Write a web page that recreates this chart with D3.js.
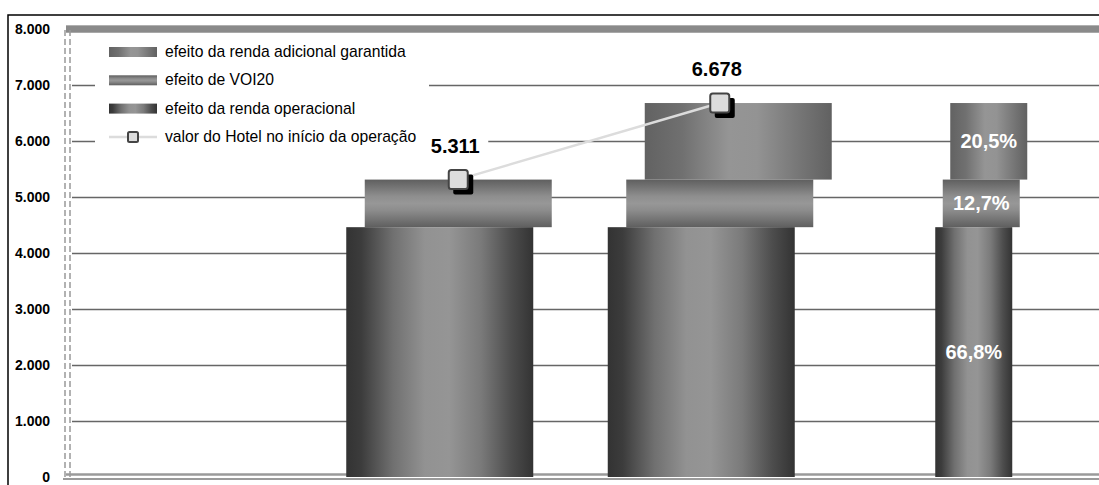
<!DOCTYPE html>
<html>
<head>
<meta charset="utf-8">
<script src="https://cdn.jsdelivr.net/npm/d3@7"></script>
<style>
  body { margin: 0; background: #fff; }
  svg { display: block; font-family: "Liberation Sans", Arial, sans-serif; }
</style>
</head>
<body>
<div id="chart"></div>
<script>
// categories (no labels shown on the x axis)
var categories = ["1", "2", "3", "4"];

// series values
var rendaOperacional = [0, 4461, 4461, 4461];
var efeitoVOI20 = [0, 850, 850, 850];
var rendaGarantida = [0, 0, 1367, 1367];
var valorHotel = [null, 5311, 6678, null];

// percentage labels on the last column
var pctOperacional = [null, null, null, "66,8%"];
var pctVOI20 = [null, null, null, "12,7%"];
var pctGarantida = [null, null, null, "20,5%"];

var yTicks = [0, 1000, 2000, 3000, 4000, 5000, 6000, 7000, 8000];

var legendLabels = ["efeito da renda adicional garantida", "efeito de VOI20",
  "efeito da renda operacional", "valor do Hotel no início da operação"];

var W = 1099, H = 485;

var svg = d3.select("#chart").append("svg")
  .attr("width", W)
  .attr("height", H);

var defs = svg.append("defs");

function gradient(id, horizontal, stops) {
  var g = defs.append("linearGradient").attr("id", id)
    .attr("x1", 0).attr("y1", 0)
    .attr("x2", horizontal ? 1 : 0).attr("y2", horizontal ? 0 : 1);
  stops.forEach(function(s) {
    g.append("stop").attr("offset", s[0]).attr("stop-color", s[1]);
  });
}
gradient("gOp", true, [[0, "#333"], [0.08, "#3c3c3c"], [0.25, "#707070"], [0.42, "#929292"],
  [0.55, "#959595"], [0.72, "#7a7a7a"], [0.88, "#4d4d4d"], [1, "#333"]]);
gradient("gVoi", false, [[0, "#5f5f5f"], [0.35, "#8e8e8e"], [0.5, "#979797"], [0.65, "#8c8c8c"], [1, "#5f5f5f"]]);
gradient("gGar", true, [[0, "#626262"], [0.2, "#707070"], [0.45, "#959595"], [0.6, "#939393"],
  [0.85, "#737373"], [1, "#616161"]]);

var y = d3.scaleLinear().domain([0, 8000]).range([477, 29]);
var x = d3.scaleBand().domain(categories).range([66, 1112]);

// outer frame
svg.append("rect")
  .attr("x", 8).attr("y", 15)
  .attr("width", 1200).attr("height", 600)
  .attr("fill", "none").attr("stroke", "#000").attr("stroke-width", 1.5);

// gridlines
svg.append("g").selectAll("line")
  .data(yTicks.filter(function(d) { return d > 0 && d < 8000; }))
  .enter().append("line")
  .attr("x1", 72).attr("x2", W)
  .attr("y1", function(d) { return y(d) + 0.5; })
  .attr("y2", function(d) { return y(d) + 0.5; })
  .attr("stroke", "#666").attr("stroke-width", 1.5);

// top wall edge
svg.append("rect").attr("x", 66).attr("y", 25).attr("width", W).attr("height", 8).attr("fill", "#8a8a8a");
svg.append("line").attr("x1", 66).attr("x2", W).attr("y1", 25.5).attr("y2", 25.5).attr("stroke", "#b0b0b0");
svg.append("line").attr("x1", 66).attr("x2", W).attr("y1", 32.5).attr("y2", 32.5).attr("stroke", "#a8a8a8");

// left axis, double dashed
[65, 70].forEach(function(xx) {
  svg.append("line")
    .attr("x1", xx).attr("x2", xx).attr("y1", 30).attr("y2", 478)
    .attr("stroke", "#999").attr("stroke-width", 1.5)
    .attr("stroke-dasharray", "6,3");
});
// floor, double line
svg.append("line").attr("x1", 66).attr("x2", W).attr("y1", 474.5).attr("y2", 474.5)
  .attr("stroke", "#9a9a9a").attr("stroke-width", 2.5);
svg.append("line").attr("x1", 63).attr("x2", W).attr("y1", 479).attr("y2", 479)
  .attr("stroke", "#9a9a9a").attr("stroke-width", 2);

// y tick labels
svg.append("g").selectAll("text")
  .data(yTicks)
  .enter().append("text")
  .attr("x", 50)
  .attr("y", function(d) { return y(d) + 5; })
  .attr("text-anchor", "end")
  .style("font-size", "14px").style("font-weight", "bold")
  .text(function(d) { return d3.format(",")(d).replace(/,/g, "."); });

// bars: series drawn back to front
var series = [
  { vals: rendaGarantida, base: function(i) { return rendaOperacional[i] + efeitoVOI20[i]; }, fill: "url(#gGar)", depth: 1, pct: pctGarantida },
  { vals: efeitoVOI20, base: function(i) { return rendaOperacional[i]; }, fill: "url(#gVoi)", depth: 0, pct: pctVOI20 },
  { vals: rendaOperacional, base: function(i) { return 0; }, fill: "url(#gOp)", depth: -1, pct: pctOperacional }
];

function barWidth(i) { return i == 3 ? 77 : 187; }
function depthStep(i) { return i == 3 ? 7.5 : 18.5; }
function cx(s, i) { return x(categories[i]) + x.bandwidth() / 2 + s.depth * depthStep(i); }

var idx = categories.map(function(c, i) { return i; });

series.forEach(function(s) {
  svg.append("g").selectAll("rect")
    .data(idx.filter(function(i) { return s.vals[i] > 0; }))
    .enter().append("rect")
    .attr("x", function(i) { return cx(s, i) - barWidth(i) / 2; })
    .attr("y", function(i) { return y(s.base(i) + s.vals[i]); })
    .attr("width", function(i) { return barWidth(i); })
    .attr("height", function(i) { return y(s.base(i)) - y(s.base(i) + s.vals[i]); })
    .attr("fill", s.fill);
});

// percentage labels
series.forEach(function(s) {
  svg.append("g").selectAll("text")
    .data(idx.filter(function(i) { return s.pct[i] != null; }))
    .enter().append("text")
    .attr("x", function(i) { return cx(s, i); })
    .attr("y", function(i) { return (y(s.base(i)) + y(s.base(i) + s.vals[i])) / 2 + 7; })
    .attr("text-anchor", "middle")
    .attr("fill", "#fff")
    .style("font-size", "20px").style("font-weight", "bold")
    .text(function(i) { return s.pct[i]; });
});

// hotel value line
var pts = idx.filter(function(i) { return valorHotel[i] != null; })
  .map(function(i) { return { c: categories[i], v: valorHotel[i] }; });
var line = d3.line()
  .x(function(p) { return x(p.c) + x.bandwidth() / 2; })
  .y(function(p) { return y(p.v); });
svg.append("path").datum(pts)
  .attr("d", line)
  .attr("fill", "none").attr("stroke", "#dcdcdc").attr("stroke-width", 2.5);

var mk = svg.append("g").selectAll("g")
  .data(pts)
  .enter().append("g")
  .attr("transform", function(p) { return "translate(" + (x(p.c) + x.bandwidth() / 2) + "," + y(p.v) + ")"; });
mk.append("rect").attr("x", -5).attr("y", -5).attr("width", 20).attr("height", 20).attr("rx", 2).attr("fill", "#000");
mk.append("rect").attr("x", -9.5).attr("y", -9.5).attr("width", 19).attr("height", 19).attr("rx", 2.5)
  .attr("fill", "#dcdcdc").attr("stroke", "#444").attr("stroke-width", 2);

// value labels with white boxes
var lab = svg.append("g").selectAll("g")
  .data(pts)
  .enter().append("g")
  .attr("transform", function(p) { return "translate(" + (x(p.c) + x.bandwidth() / 2 - 3) + "," + (y(p.v) - 27) + ")"; });
lab.append("rect").attr("x", -33).attr("y", -24).attr("width", 66).attr("height", 30).attr("fill", "#fff");
lab.append("text")
  .attr("text-anchor", "middle")
  .style("font-size", "20px").style("font-weight", "bold")
  .text(function(p) { return d3.format(",")(p.v).replace(/,/g, "."); });

// legend
var leg = svg.append("g");
leg.append("rect").attr("x", 95).attr("y", 38).attr("width", 334).attr("height", 112).attr("fill", "#fff");
var legFills = ["url(#gGar)", "url(#gVoi)", "url(#gOp)"];
var item = leg.selectAll("g")
  .data(legendLabels)
  .enter().append("g")
  .attr("transform", function(d, i) { return "translate(109," + (52 + i * 28.3) + ")"; });
item.filter(function(d, i) { return i < 3; })
  .append("rect")
  .attr("x", 0).attr("y", -5).attr("width", 48).attr("height", 10)
  .attr("fill", function(d, i) { return legFills[i]; });
var last = item.filter(function(d, i) { return i == 3; });
last.append("line").attr("x1", 0).attr("x2", 48).attr("y1", 0).attr("y2", 0)
  .attr("stroke", "#dcdcdc").attr("stroke-width", 2.5);
last.append("rect").attr("x", 19).attr("y", -5).attr("width", 10).attr("height", 10).attr("rx", 1.5)
  .attr("fill", "#dcdcdc").attr("stroke", "#444").attr("stroke-width", 2);
item.append("text")
  .attr("x", 56).attr("y", 5)
  .style("font-size", "15.7px")
  .text(function(d) { return d; });
</script>
</body>
</html>
